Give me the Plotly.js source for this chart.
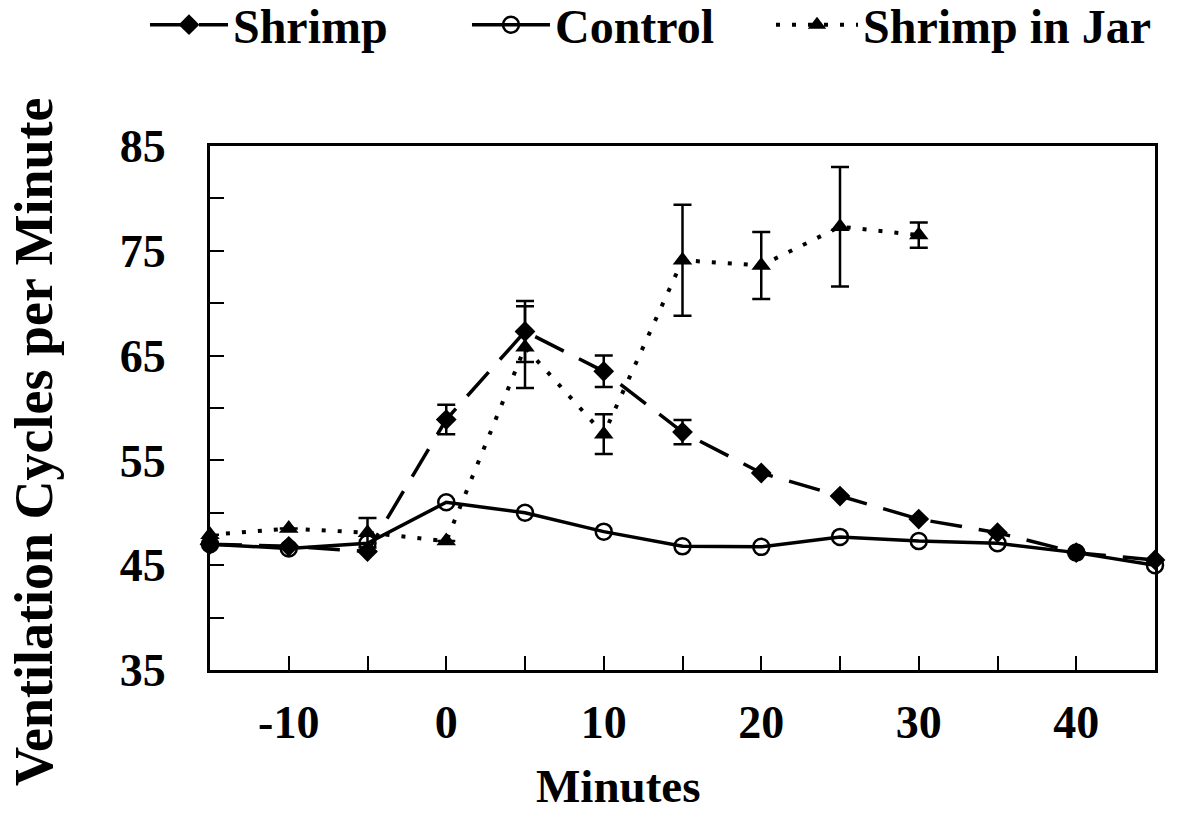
<!DOCTYPE html>
<html>
<head>
<meta charset="utf-8">
<script src="https://cdn.plot.ly/plotly-3.0.1.min.js"></script>
<style>html,body{margin:0;padding:0;background:#fff;}#chart{width:1183px;height:815px;}</style>
</head>
<body>
<div id="chart"></div>
<script>
const minutes = [-15, -10, -5, 0, 5, 10, 15, 20, 25, 30, 35, 40, 45];
const shrimp = [47.0, 46.8, 46.3, 58.9, 67.3, 63.5, 57.7, 53.8, 51.6, 49.4, 48.1, 46.2, 45.5];
const shrimpErr = [null, null, null, 1.4, 2.9, 1.5, 1.15, null, null, null, null, null, null];
const control = [47.0, 46.6, 47.1, 51.0, 50.0, 48.2, 46.8, 46.75, 47.7, 47.3, 47.1, 46.2, 45.0];
const jarMinutes = [-15, -10, -5, 0, 5, 10, 15, 20, 25, 30];
const jar = [47.9, 48.5, 48.1, 47.3, 65.8, 57.5, 74.1, 73.6, 77.3, 76.5];
const jarErr = [null, null, 1.4, null, 3.9, 1.9, 5.3, 3.2, 5.7, 1.2];
const xTickVals = [-10, 0, 10, 20, 30, 40];
const xTickText = ['-10', '0', '10', '20', '30', '40'];
const yTickVals = [35, 45, 55, 65, 75, 85];

const FONT = 'Liberation Serif, Times New Roman, serif';
const legendFont = {family: FONT, size: 48, color: '#000', weight: 'bold'};

const traces = [
  {
    x: minutes, y: shrimp, name: 'Shrimp', type: 'scatter', mode: 'lines+markers',
    line: {color: '#000', width: 3.5, dash: '32px,17px'},
    marker: {symbol: 'diamond', size: 16, color: '#000'},
    error_y: {type: 'data', array: shrimpErr, visible: true, color: '#000', thickness: 2.5, width: 9},
    cliponaxis: false, legend: 'legend'
  },
  {
    x: minutes, y: control, name: 'Control', type: 'scatter', mode: 'lines+markers',
    line: {color: '#000', width: 3.5},
    marker: {symbol: 'circle-open', size: 16, color: '#000', line: {width: 2.5, color: '#000'}},
    cliponaxis: false, legend: 'legend'
  },
  {
    x: jarMinutes, y: jar, name: 'Shrimp in Jar', type: 'scatter', mode: 'lines+markers',
    line: {color: '#000', width: 4, dash: '4px,12px'},
    marker: {symbol: 'triangle-up', size: 17, color: '#000'},
    error_y: {type: 'data', array: jarErr, visible: true, color: '#000', thickness: 2.5, width: 9},
    cliponaxis: false, legend: 'legend2'
  }
];

const layout = {
  width: 1183, height: 815,
  margin: {l: 210, r: 28, t: 146, b: 145, autoexpand: false},
  paper_bgcolor: '#fff', plot_bgcolor: '#fff',
  font: {family: FONT, size: 46, color: '#000', weight: 'bold'},
  showlegend: true,
  legend: {
    orientation: 'h', x: -0.0688, xanchor: 'left', y: (670 - 25) / 524, yanchor: 'middle',
    font: legendFont, itemwidth: 78, entrywidth: 229, entrywidthmode: 'pixels', bgcolor: 'rgba(0,0,0,0)'
  },
  legend2: {
    orientation: 'h', x: (771 - 210) / 945, xanchor: 'left', y: (670 - 25) / 524, yanchor: 'middle',
    font: legendFont, itemwidth: 82, bgcolor: 'rgba(0,0,0,0)'
  },
  xaxis: {
    range: [-15, 45], tickvals: xTickVals, ticktext: xTickText,
    ticks: 'inside', ticklen: 14, tickwidth: 2, tickcolor: '#000',
    minor: {dtick: 5, tick0: -15, ticks: 'inside', ticklen: 14, tickwidth: 2, tickcolor: '#000'},
    showline: true, linewidth: 3, linecolor: '#000', mirror: true,
    showgrid: false, zeroline: false,
    tickfont: {family: FONT, size: 46, color: '#000', weight: 'bold'},
    ticklabelstandoff: 10
  },
  yaxis: {
    range: [35, 85], tickvals: yTickVals, ticks: 'inside', ticklen: 14, tickwidth: 2, tickcolor: '#000',
    minor: {dtick: 5, tick0: 35, ticks: 'inside', ticklen: 14, tickwidth: 2, tickcolor: '#000'},
    showline: true, linewidth: 3, linecolor: '#000', mirror: true,
    showgrid: false, zeroline: false,
    tickfont: {family: FONT, size: 46, color: '#000', weight: 'bold'},
    ticklabelstandoff: 32
  },
  annotations: [
    {text: 'Minutes', xref: 'paper', yref: 'paper', x: (618 - 210) / 945, y: (670 - 786) / 524, xanchor: 'center', yanchor: 'middle',
     showarrow: false, font: {family: FONT, size: 47, color: '#000', weight: 'bold'}},
    {text: 'Ventilation Cycles per Minute', xref: 'paper', yref: 'paper', x: (34 - 210) / 945, y: (670 - 442) / 524,
     xanchor: 'center', yanchor: 'middle', textangle: -90, showarrow: false,
     font: {family: FONT, size: 54, color: '#000', weight: 'bold'}}
  ]
};

Plotly.newPlot('chart', traces, layout, {displayModeBar: false, staticPlot: true});
</script>
</body>
</html>
